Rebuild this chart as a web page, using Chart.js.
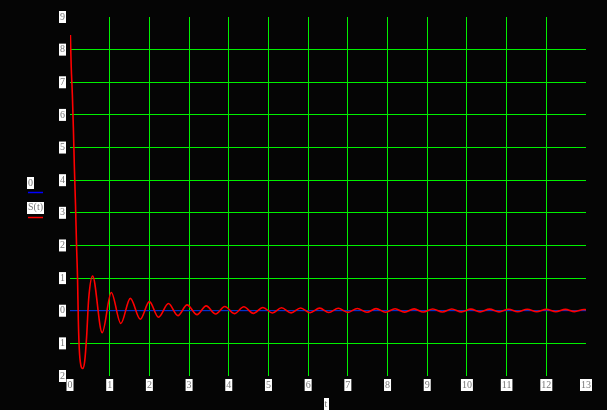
<!DOCTYPE html>
<html>
<head>
<meta charset="utf-8">
<script src="https://cdn.jsdelivr.net/npm/chart.js@4/dist/chart.umd.min.js"></script>
<style>
  html, body { margin: 0; padding: 0; background: #050505; }
  canvas { display: block; }
</style>
</head>
<body>
<canvas id="c" width="607" height="410"></canvas>
<script>
// ---- data ----
const tValues = [0.01,0.03,0.06,0.085,0.11,0.14,0.165,0.19,0.21,0.235,0.27,0.32,0.37,0.42,0.47,
  0.57,0.81,1.04,1.28,1.52,1.77,2.00,2.23,2.48,2.72,2.95,3.20,3.43,3.67,3.90,4.14,4.38,4.62,4.86,5.10,
  5.33,5.57,5.81,6.05,6.29,6.52,6.76,7.00,7.24,7.48,7.71,7.95,8.19,8.43,8.67,8.90,9.14,9.38,9.62,9.86,
  10.10,10.33,10.57,10.81,11.05,11.28,11.52,11.76,12.00,12.24,12.48,12.71,12.95,13.0];
const sValues = [8.45,7.5,6.6,5.6,4.4,3.2,2.0,1.0,-0.3,-1.2,-1.65,-1.77,-1.55,-0.77,0.35,
  1.06,-0.67,0.56,-0.39,0.38,-0.26,0.28,-0.20,0.22,-0.15,0.18,-0.12,0.15,-0.10,0.13,-0.09,0.12,-0.08,0.10,-0.07,
  0.09,-0.065,0.085,-0.06,0.08,-0.055,0.075,-0.05,0.07,-0.048,0.065,-0.045,0.06,-0.043,0.058,-0.04,0.055,-0.038,0.052,-0.036,
  0.05,-0.035,0.048,-0.034,0.046,-0.032,0.044,-0.031,0.042,-0.03,0.04,-0.029,0.038,0.03];
const zeroT = [0, 13];
const zeroValues = [0, 0];
const seriesNames = ['0', 'S(t)'];
const xTitle = 't';
const yTickLabels = {'-2':'2','-1':'1','0':'0','1':'1','2':'2','3':'3','4':'4','5':'5','6':'6','7':'7','8':'8','9':'9'};

const GRID = '#00f000';
const LABEL_FONT = '10px "Liberation Serif"';

function boxText(ctx, txt, x, y, align) {
  ctx.font = LABEL_FONT;
  const w = ctx.measureText(txt).width;
  let left = align === 'left' ? x : x - w / 2;
  ctx.fillStyle = '#ffffff';
  ctx.fillRect(Math.round(left) - 1, Math.round(y - 6), Math.round(w) + 2, 12);
  ctx.fillStyle = '#777777';
  ctx.textBaseline = 'middle';
  ctx.textAlign = 'left';
  ctx.fillText(txt, left, y);
}

const extras = {
  id: 'extras',
  beforeDraw(chart) {
    const ctx = chart.ctx;
    ctx.save();
    ctx.fillStyle = '#050505';
    ctx.fillRect(0, 0, chart.width, chart.height);
    ctx.restore();
  },
  afterDraw(chart) {
    const ctx = chart.ctx;
    ctx.save();
    // legend
    boxText(ctx, seriesNames[0], 28, 183, 'left');
    ctx.strokeStyle = '#0000ff';
    ctx.lineWidth = 1.5;
    ctx.beginPath(); ctx.moveTo(28, 192.5); ctx.lineTo(43, 192.5); ctx.stroke();
    boxText(ctx, seriesNames[1], 28, 207.5, 'left');
    ctx.strokeStyle = '#ff0000';
    ctx.lineWidth = 1.5;
    ctx.beginPath(); ctx.moveTo(28, 217.5); ctx.lineTo(43, 217.5); ctx.stroke();
    // x title
    boxText(ctx, xTitle, 326, 404, 'center');
    ctx.restore();
  }
};

new Chart(document.getElementById('c'), {
  type: 'line',
  data: {
    datasets: [
      {
        label: seriesNames[1],
        data: tValues.map((t, i) => ({x: t, y: sValues[i]})),
        borderColor: '#ff0000',
        borderWidth: 1.6,
        pointRadius: 0,
        cubicInterpolationMode: 'monotone',
        fill: false
      },
      {
        label: seriesNames[0],
        data: zeroT.map((t, i) => ({x: t, y: zeroValues[i]})),
        borderColor: '#0000ff',
        borderWidth: 1,
        pointRadius: 0,
        fill: false
      }
    ]
  },
  options: {
    responsive: false,
    animation: false,
    devicePixelRatio: 1,
    layout: { padding: { top: 17, right: 21, bottom: 0, left: 0 } },
    plugins: { legend: { display: false }, tooltip: { enabled: false } },
    scales: {
      x: {
        type: 'linear', min: 0, max: 13,
        border: { display: false },
        grid: {
          drawTicks: false,
          lineWidth: 1,
          color: c => (c.tick && (c.tick.value === 0 || c.tick.value === 13)) ? 'rgba(0,0,0,0)' : GRID
        },
        ticks: {
          stepSize: 1, autoSkip: false, maxRotation: 0,
          color: '#777777',
          font: { family: 'Liberation Serif', size: 10 },
          padding: 3,
          showLabelBackdrop: true,
          backdropColor: '#ffffff',
          backdropPadding: { x: 1, y: 0 }
        },
        afterFit: s => { s.height = 34; }
      },
      y: {
        type: 'linear', min: -2, max: 9,
        border: { display: false },
        grid: {
          drawTicks: false,
          lineWidth: 1,
          color: c => (c.tick && (c.tick.value === -2 || c.tick.value === 9)) ? 'rgba(0,0,0,0)' : GRID
        },
        ticks: {
          stepSize: 1, autoSkip: false,
          color: '#777777',
          font: { family: 'Liberation Serif', size: 10 },
          padding: 5,
          showLabelBackdrop: true,
          backdropColor: '#ffffff',
          backdropPadding: { x: 1, y: 0 },
          callback: v => yTickLabels[String(v)]
        },
        afterFit: s => { s.width = 70; }
      }
    }
  },
  plugins: [extras]
});
</script>
</body>
</html>
